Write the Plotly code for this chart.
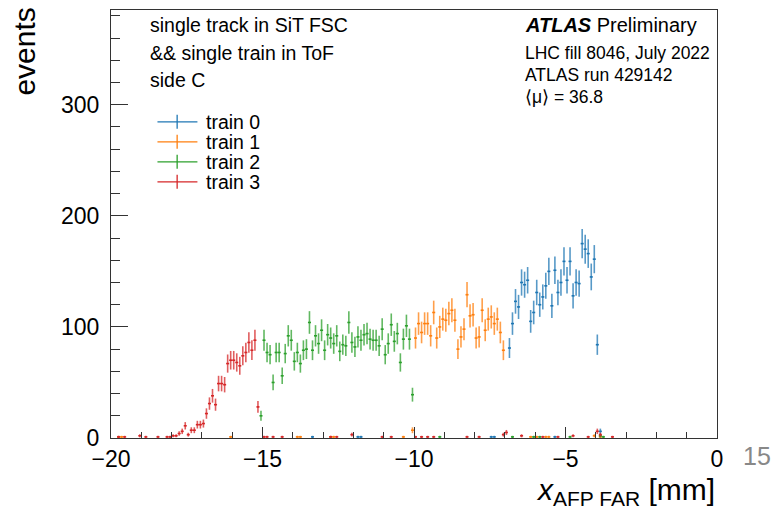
import numpy as np
import plotly.graph_objects as go

# ---------------- data ----------------
BIN_WIDTH = 0.1  # mm
train_names = ["train 0", "train 1", "train 2", "train 3"]
train_colors = ["#1f77b4", "#ff7f0e", "#2ca02c", "#d62728"]

# main populated regions: first bin centre + consecutive bin contents
train0_start = -6.85
train0_counts = [81, 103, 123, 118, 140, 138, 142, 105, 113, 131, 120, 127, 137, 150, 119,
                 151, 131, 140, 159, 142, 159, 128, 140, 139, 175, 170, 166, 145, 161, 84]
train1_start = -9.95
train1_counts = [90, 103, 95, 103, 103, 92, 113, 90, 100, 107, 106, 112, 115, 106, 80,
                 91, 98, 129, 110, 111, 90, 91, 115, 97, 107, 109, 103, 107, 95, 79]
train2_start = -15.05
train2_counts = [20, 88, 77, 75, 50, 77, 77, 56, 76, 92, 88, 69, 77, 67, 79, 80, 104, 79,
                 92, 85, 97, 79, 93, 90, 85, 92, 78, 84, 83, 104, 86, 82, 91, 88, 93, 94,
                 89, 88, 88, 83, 98, 75, 85, 102, 87, 94, 68, 89, 101, 89, 39]
train3_start = -18.05
train3_counts = [1, 2, 2, 4, 6, 11, 3, 7, 7, 12, 12, 13, 22, 31, 38, 30, 49, 49, 48, 67,
                 70, 70, 68, 65, 74, 77, 86, 79, 88, 28]

# sparse low-count bins outside the main regions
train0_tail_x = [-13.35, -11.85, -11.75, -7.45, -7.35, -5.35, -3.85]
train0_tail_counts = [1, 1, 1, 1, 1, 1, 6]
train1_tail_x = [-19.75, -19.65, -16.05, -13.85, -13.75, -12.75, -12.65, -10.35, -10.05,
                 -6.15, -5.95, -5.65, -5.55, -4.05, -3.85]
train1_tail_counts = [1, 1, 1, 1, 1, 1, 1, 1, 7, 1, 1, 1, 1, 2, 1]
train2_tail_x = [-9.15, -6.75, -6.05, -5.85, -4.85, -3.85, -3.75]
train2_tail_counts = [1, 1, 1, 1, 1, 2, 1]
train3_tail_x = [-19.75, -19.55, -19.05, -18.85, -18.45, -18.15, -14.95, -14.85, -14.65,
                 -14.35, -12.75, -12.55, -12.05, -11.05, -10.75, -9.95, -9.75, -9.55,
                 -9.35, -8.25, -7.85, -7.05, -6.95, -6.45, -5.75, -5.25, -4.75, -4.25,
                 -3.95, -3.85, -3.45]
train3_tail_counts = [1, 1, 2, 1, 1, 1, 1, 1, 1, 1, 1, 1, 3, 1, 1, 1, 1, 1, 1, 1, 1, 3,
                      5, 2, 1, 1, 2, 1, 6, 3, 1]

x_ticks = [-20, -15, -10, -5, 0]
y_ticks = [0, 100, 200, 300]

left_text = ["single track in SiT FSC", "&& single train in ToF", "side C"]
right_text = ["LHC fill 8046, July 2022", "ATLAS run 429142", "⟨μ⟩ = 36.8"]

series = [
    (train0_start, train0_counts, train0_tail_x, train0_tail_counts),
    (train1_start, train1_counts, train1_tail_x, train1_tail_counts),
    (train2_start, train2_counts, train2_tail_x, train2_tail_counts),
    (train3_start, train3_counts, train3_tail_x, train3_tail_counts),
]

# ---------------- figure ----------------
FONT = "Liberation Sans, Arial, Helvetica, sans-serif"
OFF = 8                       # default page body margin
W, H = 782 - OFF, 506 - OFF   # figure size so it fills the window
# plot-area edges in window pixels
PL, PR, PT, PB = 110.5, 717, 10, 437.7
L, R, T, B = PL - OFF, W - (PR - OFF), PT - OFF, H - (PB - OFF)
PW, PH = PR - PL, PB - PT


def px(xp):  # window pixel -> paper x
    return (xp - PL) / PW


def py(yp):  # window pixel -> paper y
    return (PB - yp) / PH


def rgba(hexc, a):
    h = hexc.lstrip("#")
    return "rgba(%d,%d,%d,%.2f)" % (int(h[0:2], 16), int(h[2:4], 16), int(h[4:6], 16), a)


fig = go.Figure()
for (start, counts, tx, tc), name, col in zip(series, train_names, train_colors):
    xs = [round(start + BIN_WIDTH * i, 3) for i in range(len(counts))] + list(tx)
    ys = list(counts) + list(tc)
    err = np.sqrt(np.array(ys, dtype=float))
    fig.add_trace(go.Scatter(
        x=xs, y=ys, mode="markers", name=name, showlegend=False,
        marker=dict(size=1, color=col),
        error_y=dict(type="data", array=err, width=0, thickness=1.6, color=rgba(col, 0.75)),
        error_x=dict(type="constant", value=BIN_WIDTH / 2, width=0, thickness=1.6, color=col),
    ))

annotations = []
shapes = []
# top-left text
for t, yp in zip(left_text, [25, 52.7, 80]):
    annotations.append(dict(xref="paper", yref="paper", x=px(148), y=py(yp), text=t,
                            showarrow=False, xanchor="left", yanchor="middle",
                            font=dict(family=FONT, size=19.5, color="black")))
# ATLAS label
annotations.append(dict(xref="paper", yref="paper", x=px(522.5), y=py(25),
                        text="<b><i>ATLAS</i></b> Preliminary", showarrow=False,
                        xanchor="left", yanchor="middle",
                        font=dict(family=FONT, size=20, color="black")))
for t, yp in zip(right_text, [53, 74.5, 97]):
    annotations.append(dict(xref="paper", yref="paper", x=px(522.5), y=py(yp), text=t,
                            showarrow=False, xanchor="left", yanchor="middle",
                            font=dict(family=FONT, size=17.5, color="black")))

# manual legend (line with vertical error tick)
for i, (name, col) in enumerate(zip(train_names, train_colors)):
    yrow = 121.7 + 20 * i
    shapes.append(dict(type="line", xref="paper", yref="paper", x0=px(157), x1=px(197),
                       y0=py(yrow), y1=py(yrow), line=dict(color=col, width=1.3)))
    shapes.append(dict(type="line", xref="paper", yref="paper", x0=px(176.7), x1=px(176.7),
                       y0=py(yrow - 7), y1=py(yrow + 7), line=dict(color=col, width=1.3)))
    annotations.append(dict(xref="paper", yref="paper", x=px(204), y=py(yrow), text=name,
                            showarrow=False, xanchor="left", yanchor="middle",
                            font=dict(family=FONT, size=19.5, color="black")))

# axis titles
annotations.append(dict(xref="paper", yref="paper", x=px(24), y=py(6), text="events",
                        textangle=-90, showarrow=False, xanchor="center", yanchor="top",
                        font=dict(family=FONT, size=30, color="black")))
annotations.append(dict(xref="paper", yref="paper", x=px(717), y=py(491),
                        text="<i>x</i><sub>AFP FAR</sub> [mm]", showarrow=False,
                        xanchor="right", yanchor="middle",
                        font=dict(family=FONT, size=30, color="black")))
annotations.append(dict(xref="paper", yref="paper", x=px(773), y=py(456), text="15",
                        showarrow=False, xanchor="right", yanchor="middle",
                        font=dict(family=FONT, size=25, color="#888888")))

fig.update_layout(
    width=W, height=H,
    margin=dict(l=L, r=R, t=T, b=B, pad=0),
    paper_bgcolor="white", plot_bgcolor="white",
    showlegend=False,
    annotations=annotations, shapes=shapes,
    font=dict(family=FONT, color="black"),
)
fig.update_xaxes(
    range=[-20, 0], tickvals=x_ticks, ticks="inside", ticklen=11, tickwidth=1,
    tickcolor="#333", showline=True, linecolor="#333", linewidth=1, mirror=True,
    showgrid=False, zeroline=False, tickfont=dict(family=FONT, size=23, color="black"),
    minor=dict(dtick=1, ticks="inside", ticklen=6, tickcolor="#333", showgrid=False),
)
fig.update_yaxes(
    range=[0, 385.3], tickvals=y_ticks, ticks="inside", ticklen=17, tickwidth=1,
    tickcolor="#333", showline=True, linecolor="#333", linewidth=1, mirror=True,
    showgrid=False, zeroline=False, tickfont=dict(family=FONT, size=23, color="black"),
    ticklabelstandoff=6,
    minor=dict(dtick=20, ticks="inside", ticklen=8.5, tickcolor="#333", showgrid=False),
)

fig.write_html("out.html")
